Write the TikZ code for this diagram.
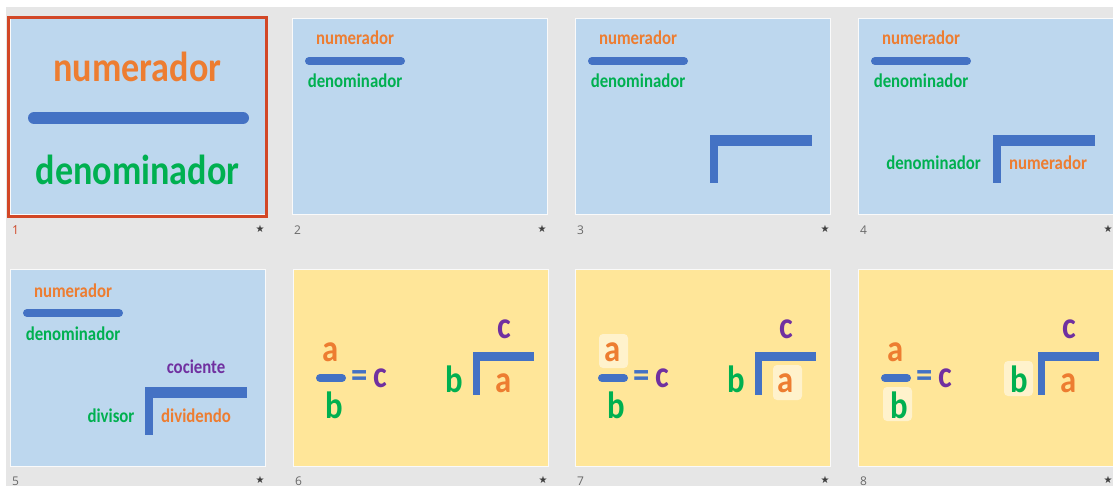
\documentclass[tikz,border=0pt]{standalone}
\usepackage{fontspec}
\newfontfamily\slidefont[FakeStretch=0.86]{Carlito}
\newfontfamily\uifont{Open Sans}
\newfontfamily\symfont{DejaVu Sans}
\definecolor{sorterbg}{RGB}{230,230,230}
\definecolor{slideblue}{RGB}{189,215,238}
\definecolor{slideyellow}{RGB}{255,230,153}
\definecolor{markyellow}{RGB}{255,242,204}
\definecolor{barblue}{RGB}{68,114,196}
\definecolor{numorange}{RGB}{237,125,49}
\definecolor{dengreen}{RGB}{0,176,80}
\definecolor{quotpurple}{RGB}{112,48,160}
\definecolor{selred}{RGB}{210,71,38}
\definecolor{labelgray}{RGB}{105,105,105}

\tikzset{
  bigword/.style={anchor=base, inner sep=0pt, font=\slidefont\bfseries\fontsize{42}{42}\selectfont},
  word/.style={anchor=base, inner sep=0pt, font=\slidefont\bfseries\fontsize{19.5}{20}\selectfont},
  letter/.style={anchor=base, inner sep=0pt, font=\slidefont\bfseries\fontsize{38}{38}\selectfont},
  fracbar/.style={barblue, line width=8pt, line cap=round},
  markbox/.style={fill=markyellow, draw=none, rounded corners=4pt},
  slidenum/.style={anchor=west, inner sep=0pt, text=labelgray, font=\uifont\fontsize{12}{12}\selectfont},
  slidestar/.style={inner sep=0pt, text=labelgray!60!black, font=\symfont\fontsize{10}{10}\selectfont},
}

\begin{document}
\begin{tikzpicture}[x=1pt,y=-1pt]
\useasboundingbox (0,0) rectangle (1113,486);
% Sorter background
\fill[white] (0,0) rectangle (1113,486);
\fill[sorterbg] (6,7) rectangle (1113,486);

% Slide frames and labels
\foreach \sx/\sy/\n/\bg in {10/19/1/slideblue,292/19/2/slideblue,575/19/3/slideblue,858/19/4/slideblue,
                             10/270/5/slideblue,293/270/6/slideyellow,575/270/7/slideyellow,858/270/8/slideyellow}{
  \draw[fill=\bg, draw=white!80!sorterbg, line width=1pt] (\sx,\sy) rectangle ++(255,196);
  \node[slidenum] (lab\n) at (\sx+2,\sy+211) {\n};
  \node[slidestar] (star\n) at (\sx+250,\sy+210) {★};
}
\draw[selred, line width=3pt] (8.5,17.5) rectangle (266.5,216.5);
\fill[sorterbg] (lab1.south west) rectangle (lab1.north east);
\node[slidenum, text=selred] at (lab1.west) {1};

% Slide 1
\node[bigword, text=numorange] (bignum) at (137.5,82) {numerador};
\draw[barblue, line width=12pt, line cap=round] (34,118) -- (243,118);
\node[bigword, text=dengreen] (bigden) at (137.5,185) {denominador};

% Slides 2-5: small fraction
\foreach \sx/\sy/\n in {292/19/2,575/19/3,858/19/4,10/271/5}{
  \begin{scope}[shift={(\sx,\sy)}]
    \node[word, text=numorange] (num\n) at (63,26) {numerador};
    \draw[fracbar] (17,42) -- (109,42);
    \node[word, text=dengreen] (den\n) at (63,69) {denominador};
  \end{scope}
}

% Slides 3-5: division bracket
\foreach \sx/\sy in {575/19,858/19,10/271}{
  \begin{scope}[shift={(\sx,\sy)}]
    \fill[barblue] (135,116) rectangle (237,127);
    \fill[barblue] (135,116) rectangle (143,164);
  \end{scope}
}

% Slide 4
\begin{scope}[shift={(858,19)}]
  \node[word, text=dengreen] (dvs4) at (75.5,151) {denominador};
  \node[word, text=numorange] (dvd4) at (190,151) {numerador};
\end{scope}

% Slide 5
\begin{scope}[shift={(10,271)}]
  \node[word, text=quotpurple] (quot5) at (186,102) {cociente};
  \node[word, text=dengreen] (dvs5) at (101,151) {divisor};
  \node[word, text=numorange] (dvd5) at (186,151) {dividendo};
\end{scope}

% Slides 7-8: highlights
\begin{scope}[shift={(575,270)}]
  \fill[markbox] (24,64) rectangle (53,98);
  \fill[markbox] (198,95) rectangle (227,130);
\end{scope}
\begin{scope}[shift={(858,270)}]
  \fill[markbox] (25,117) rectangle (54,151);
  \fill[markbox] (146,91) rectangle (175,126);
\end{scope}

% Slides 6-8: a/b = c
\foreach \sx/\n in {293/6,575/7,858/8}{
  \begin{scope}[shift={(\sx,270)}]
    \node[letter, text=numorange] (a\n) at (38,91) {a};
    \draw[fracbar] (27,108) -- (49,108);
    \node[letter, text=dengreen] (b\n) at (41,148) {b};
    \node[letter, text=barblue, anchor=center] (eq\n) at (66.5,109.5) {=};
    \node[letter, text=quotpurple] (c\n) at (87.5,117) {c};
    \node[letter, text=dengreen] (bb\n) at (161.5,122) {b};
    \fill[barblue] (180,82) rectangle (241,91);
    \fill[barblue] (180,82) rectangle (187,125);
    \node[letter, text=quotpurple] (cc\n) at (211.5,68) {c};
    \node[letter, text=numorange] (aa\n) at (211,122) {a};
  \end{scope}
}
\end{tikzpicture}
\end{document}
